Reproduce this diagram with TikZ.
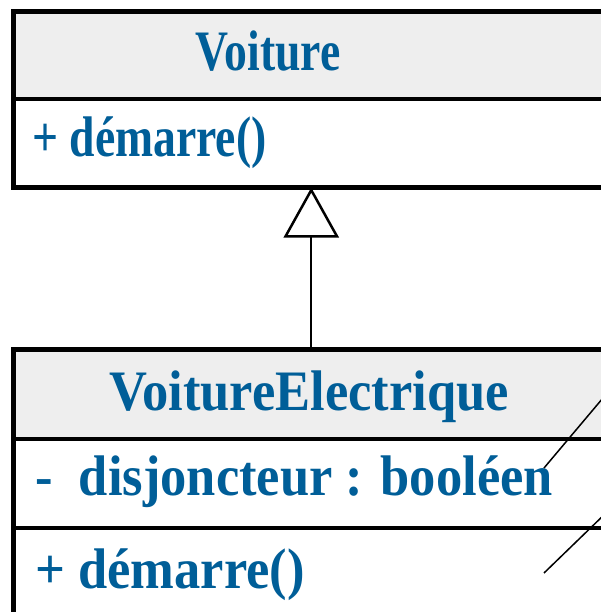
\documentclass[tikz,border=0pt]{standalone}
\usepackage{fontspec}
\setmainfont{Liberation Serif}
\usepackage{graphicx}
\usetikzlibrary{arrows.meta}
\definecolor{classblue}{HTML}{005E98}
\definecolor{headgray}{HTML}{EEEEEE}
\newcommand{\Squeeze}[2]{\scalebox{#1}[1.09]{#2}}

\begin{document}
\begin{tikzpicture}[x=1pt, y=-1pt,
    compart/.style={draw=black, line width=4.5pt, fill=white, rectangle, minimum width=596pt, inner sep=0pt, anchor=north west},
    headcomp/.style={compart, fill=headgray},
    member/.style={text=classblue, font=\fontsize{52.5}{60}\selectfont\bfseries, inner sep=0pt},
    inherit/.style={-{Triangle[open, length=50pt, width=55pt, line width=2.5pt]}, line width=1.6pt, shorten >=-2.5pt},
    noteline/.style={line width=1.5pt},
  ]
% --- Frame -------------------------------------------------------------------------
\useasboundingbox (0,0) rectangle (601,612);

% --- Class Voiture -----------------------------------------------------------------
\node[headcomp, minimum height=87.5pt] (voiture) at (11,9.5) {};
\node[compart, minimum height=88.5pt] (voitureops) at (11,97) {};
\node[member, anchor=base] (voituretitle) at (268,71) {\Squeeze{0.87}{Voiture}};
\node[member, anchor=base west] (voituredem) at (32,157) {\Squeeze{0.87}{+ démarre()}};

% --- Class VoitureElectrique --------------------------------------------------------
\node[headcomp, minimum height=89.5pt] (elec) at (11,347) {};
\node[compart, minimum height=89pt] (elecattr) at (11,436.5) {};
\node[compart, minimum height=140pt] (elecops) at (11,525.5) {};
\node[member, anchor=base] (electitle) at (309,410) {\Squeeze{1}{VoitureElectrique}};
\node[member, anchor=base west] (elecdisj) at (35,495) {\Squeeze{1}{-\ \ disjoncteur : booléen}};
\node[member, anchor=base west] (elecdem) at (35,588) {\Squeeze{1}{+ démarre()}};

% --- Connectors (drawn last) ---------------------------------------------------------
% The two thin lines run off to the right, to a note outside the frame.
\coordinate (attrend) at (544,468);
\coordinate (opend) at (544,573);
\coordinate (notea) at (640,354);
\coordinate (noteb) at (640,480);
\draw[inherit] (elec.north) -- (voitureops.south);
\draw[noteline] (attrend) -- (notea);
\draw[noteline] (opend) -- (noteb);
\end{tikzpicture}
\end{document}
